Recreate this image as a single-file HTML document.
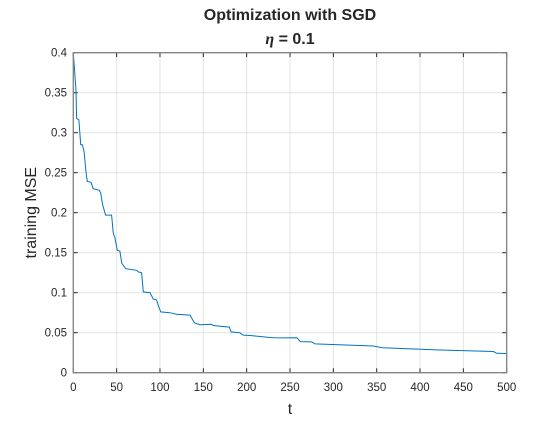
<!DOCTYPE html>
<html><head><meta charset="utf-8"><style>
body{margin:0;background:#fff;}
svg text{font-family:"Liberation Sans",sans-serif;fill:#262626;}
</style></head><body>
<svg width="560" height="420" xmlns="http://www.w3.org/2000/svg">
<g id="grid"></g>
<g id="ticks"></g>
<path id="series" fill="none" stroke="#0072BD" stroke-width="1"/>
<rect x="73.3" y="52.7" width="433.4" height="320" fill="none" stroke="#808080" stroke-width="1.3"/>
<text x="290" y="20" text-anchor="middle" font-size="16" font-weight="bold">Optimization with SGD</text>
<text x="290" y="44" text-anchor="middle" font-size="16" font-weight="bold"><tspan font-family="Liberation Serif" font-style="italic">η</tspan> = 0.1</text>
<text x="290" y="414" text-anchor="middle" font-size="16">t</text>
<text transform="translate(36,212.7) rotate(-90)" text-anchor="middle" font-size="16">training MSE</text>
</svg>
<script>
const xTicks=[0,50,100,150,200,250,300,350,400,450,500];
const yTicks=[0,0.05,0.1,0.15,0.2,0.25,0.3,0.35,0.4];
const yTickLabels=["0","0.05","0.1","0.15","0.2","0.25","0.3","0.35","0.4"];
const tVals=[0,3.1,3.8,6.5,8.5,10.4,12.3,14.6,16.2,20.4,23,30,31.5,33.8,37.3,44.2,46.2,48,50.8,53.8,55.8,60.4,73,75,78.8,80.8,88.5,92.3,96,98.5,101,111.5,119,134.6,137.7,140,146,159.6,161,180,182,192,196,204,227,231,247,258,262,275,279,346,357,423,484.6,488.5,500];
const mseVals=[0.4,0.353,0.318,0.316,0.285,0.285,0.277,0.251,0.239,0.238,0.23,0.228,0.225,0.21,0.197,0.197,0.174,0.169,0.153,0.152,0.137,0.130,0.128,0.126,0.125,0.101,0.100,0.092,0.091,0.0825,0.076,0.075,0.073,0.072,0.066,0.062,0.060,0.0605,0.059,0.057,0.051,0.050,0.047,0.0465,0.044,0.0437,0.0435,0.0438,0.0389,0.0385,0.036,0.0334,0.0313,0.0284,0.0265,0.0243,0.024];
const X=v=>73.3+v/500*433.4, Y=v=>372.7-v/0.4*320;
const ns="http://www.w3.org/2000/svg";
const grid=document.getElementById('grid'), ticks=document.getElementById('ticks');
function mk(tag,attrs,parent){const e=document.createElementNS(ns,tag);for(const k in attrs)e.setAttribute(k,attrs[k]);parent.appendChild(e);return e;}
xTicks.forEach(v=>{
 const g=mk('line',{x1:X(v),x2:X(v),y1:52.7,y2:372.7,stroke:'#e3e3e3'},grid);
 
 
 mk('line',{x1:X(v),x2:X(v),y1:372.7,y2:368.3,stroke:'#262626'},ticks);
 mk('line',{x1:X(v),x2:X(v),y1:52.7,y2:57.1,stroke:'#262626'},ticks);
 const t=mk('text',{x:X(v),y:391,'text-anchor':'middle','font-size':'11.5'},ticks);
 t.textContent=v;
 
 
});
yTicks.forEach((v,i)=>{
 const g=mk('line',{x1:73.3,x2:506.7,y1:Y(v),y2:Y(v),stroke:'#e3e3e3'},grid);
 
 
 mk('line',{x1:73.3,x2:77.7,y1:Y(v),y2:Y(v),stroke:'#262626'},ticks);
 mk('line',{x1:506.7,x2:502.3,y1:Y(v),y2:Y(v),stroke:'#262626'},ticks);
 const t=mk('text',{x:67,y:Y(v)+4,'text-anchor':'end','font-size':'11.5'},ticks);
 t.textContent=yTickLabels[i];
 
 
});
document.getElementById('series').setAttribute('d',tVals.map((t,i)=>(i?'L':'M')+X(t).toFixed(1)+','+Y(mseVals[i]).toFixed(1)).join(''));
</script>
</body></html>
